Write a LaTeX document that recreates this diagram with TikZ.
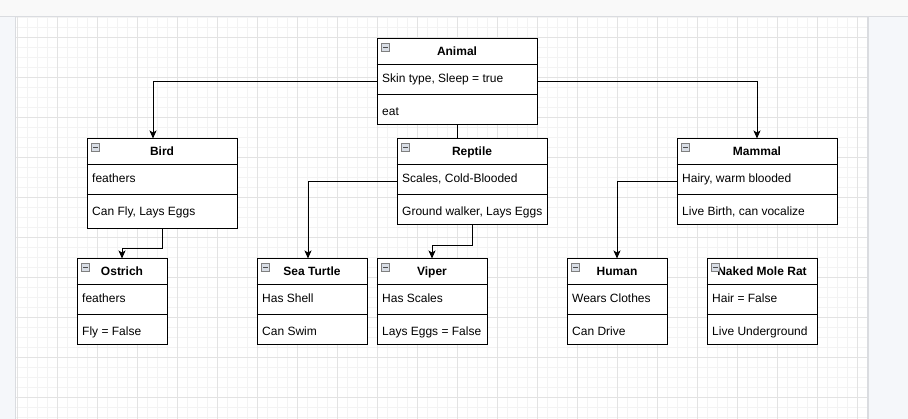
\documentclass[tikz,border=0pt]{standalone}
\usepackage{fontspec}
\setmainfont{Liberation Sans}
\usetikzlibrary{arrows.meta,calc}
\definecolor{topbar}{HTML}{F9F9F9}
\definecolor{sidebar}{HTML}{F5F7FA}
\definecolor{edgecol}{HTML}{DADCE0}
\definecolor{gminor}{HTML}{F3F3F3}
\definecolor{gmajor}{HTML}{E3E3E3}
\definecolor{iconfill}{HTML}{D9DEE6}
\definecolor{iconline}{HTML}{808080}
\tikzset{
  classbox/.style={draw=black, line width=1pt, fill=white, inner sep=0pt, anchor=north west},
  ttl/.style={font=\fontsize{12}{14}\selectfont\bfseries, inner sep=0pt, anchor=base},
  txt/.style={font=\fontsize{12}{14}\selectfont, inner sep=0pt, anchor=base west},
  sepline/.style={line width=1pt},
  collapseicon/.style={draw=iconline, line width=0.6pt, fill=iconfill, minimum size=7.5pt, inner sep=0pt,
    path picture={\draw[line width=1.2pt, black!70] ([xshift=-2.3pt]path picture bounding box.center) -- ([xshift=2.3pt]path picture bounding box.center);}},
  conn/.style={line width=1pt, -{Stealth[length=8pt,width=7pt,inset=2pt]}},
  plainconn/.style={line width=1pt},
}
\newcommand\umlclass[8]{%
  \node[classbox, minimum width=#4pt, minimum height=#5pt] (#1) at (#2,#3) {};
  \draw[sepline] ([yshift=-26pt]#1.north west) -- ([yshift=-26pt]#1.north east);
  \draw[sepline] ([yshift=-56pt]#1.north west) -- ([yshift=-56pt]#1.north east);
  \node[ttl] (#1-t) at ([yshift=-17.5pt]#1.north) {#6};
  \node[collapseicon] (#1-i) at ([xshift=9pt,yshift=-9pt]#1.north west) {};
  \node[txt] (#1-a) at ([xshift=5.5pt,yshift=-44pt]#1.north west) {#7};
  \node[txt] (#1-m) at ([xshift=5.5pt,yshift=-77.5pt]#1.north west) {#8};
}
\begin{document}
\begin{tikzpicture}[x=1pt,y=-1pt]
\useasboundingbox (0,0) rectangle (908,419);
% editor background
\fill[topbar] (0,0) rectangle (908,419);
\fill[sidebar] (0,16) rectangle (15.5,419);
\fill[sidebar] (868,16) rectangle (908,419);
\fill[white] (16,17) rectangle (867,419);
\foreach \k in {0,...,85} \draw[gminor, line width=1pt] ({17+10*\k},17) -- ({17+10*\k},419);
\foreach \k in {0,...,40} \draw[gminor, line width=1pt] (16,{18+10*\k}) -- (867,{18+10*\k});
\foreach \k in {0,...,21} \draw[gmajor, line width=1pt] ({17+40*\k},17) -- ({17+40*\k},419);
\foreach \k in {0,...,9} \draw[gmajor, line width=1pt] (16,{38+40*\k}) -- (867,{38+40*\k});
\draw[edgecol, line width=1pt] (0,16.5) -- (908,16.5);
\draw[edgecol, line width=1pt] (15.5,16.5) -- (15.5,419);
\draw[edgecol, line width=1.5pt] (867.8,16.5) -- (867.8,419);

% classes
\umlclass{animal}{376.5}{38.5}{160}{86}{Animal}{Skin type, Sleep = true}{eat}
\umlclass{bird}{86.5}{138.5}{150}{90}{Bird}{feathers}{Can Fly, Lays Eggs}
\umlclass{reptile}{396.5}{138.5}{150}{86}{Reptile}{Scales, Cold-Blooded}{Ground walker, Lays Eggs}
\umlclass{mammal}{676.5}{138.5}{160}{86}{Mammal}{Hairy, warm blooded}{Live Birth, can vocalize}
\umlclass{ostrich}{76.5}{258.5}{90}{86}{Ostrich}{feathers}{Fly = False}
\umlclass{seaturtle}{256.5}{258.5}{110}{86}{Sea Turtle}{Has Shell}{Can Swim}
\umlclass{viper}{376.5}{258.5}{110}{86}{Viper}{Has Scales}{Lays Eggs = False}
\umlclass{human}{566.5}{258.5}{100}{86}{Human}{Wears Clothes}{Can Drive}
\umlclass{molerat}{706.5}{258.5}{110}{86}{Naked Mole Rat}{Hair = False}{Live Underground}

% connectors
\draw[conn] (animal.west) -| ([xshift=-9pt]bird.north);
\draw[plainconn] (animal.south) -- (animal.south |- reptile.north);
\draw[conn] (animal.east) -| (mammal.north);
\draw[conn] (bird.south) -- ++(0,19.5) -| (ostrich.north);
\draw[conn] (reptile.west) -| ([xshift=-4pt]seaturtle.north);
\draw[conn] (reptile.south) -- ++(0,20) -| (viper.north);
\draw[conn] (mammal.west) -| (human.north);
\end{tikzpicture}
\end{document}
